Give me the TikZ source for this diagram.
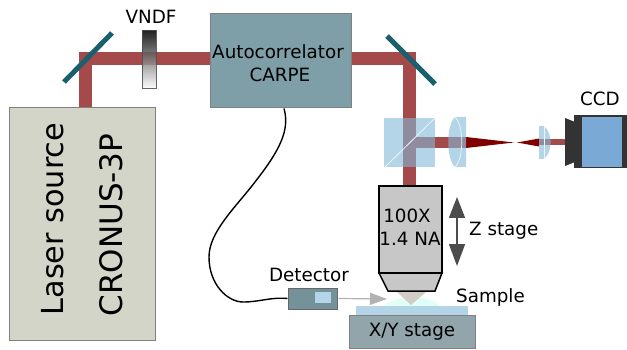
\documentclass[tikz,border=0pt]{standalone}
\usepackage{fontspec}
\setmainfont{DejaVu Sans}
\usetikzlibrary{arrows.meta}
\definecolor{laserfill}{HTML}{D3D5C9}
\definecolor{carpefill}{HTML}{7F9FA8}
\definecolor{beamred}{HTML}{A54A4A}
\definecolor{mirrorteal}{HTML}{1A5F6E}
\definecolor{opticblue}{HTML}{82B9D9}
\definecolor{stagefill}{HTML}{91A5AB}
\definecolor{chipblue}{HTML}{7AA9D6}
\begin{document}
\begin{tikzpicture}[
    x=1pt, y=-1pt,
    box/.style={
        draw=black!50,
        line width=1pt,
        inner sep=0pt,
        align=center,
        font=\fontsize{18.3}{22}\selectfont
    },
    label/.style={inner sep=0pt, align=center, font=\fontsize{18.3}{22}\selectfont},
    biglabel/.style={inner sep=0pt, rotate=90, font=\fontsize{31}{36}\selectfont},
    beam/.style={line width=13pt, beamred},
    mirror/.style={line width=5pt, mirrorteal},
    optic/.style={fill=opticblue, fill opacity=0.6},
    cable/.style={line width=1.4pt, black}
]
\useasboundingbox (0,0) rectangle (627,350);
%==========================
% Source and autocorrelator
%==========================
\node[box, fill=laserfill, minimum width=146pt, minimum height=232pt] (laser) at (82,224) {};
\node[biglabel, font=\fontsize{30.3}{36}\selectfont] (lasertxt) at (53,219) {Laser source};
\node[biglabel] (cronus) at (111,225) {CRONUS-3P};
\node[box, fill=carpefill, minimum width=141pt, minimum height=94pt] (carpe) at (280.5,61) {};
\node[label] (carpetxt) at (278,52) {Autocorrelator};
\node[label] (carpename) at (280,75) {CARPE};

\node[box, draw=black, line width=1.5pt, fill=black!22, minimum width=63pt, minimum height=87pt] (objective) at (410.5,229.5) {};
\coordinate (turn1) at (85,58.5);
\coordinate (turn2) at (409,58.5);

\draw[beam] (laser.north -| turn1) -- (turn1) -- (carpe.west |- turn1);
\draw[beam] (carpe.east |- turn2) -- (turn2) -- (objective.north -| turn2);
\draw[mirror] (64,82) -- (112,33);
\draw[mirror] (387,36) -- (435,84);

\node[box, draw=black!70, top color=black, bottom color=white, opacity=0.85, minimum width=14pt, minimum height=58pt] (vndf) at (149,60) {};
\node[label] (vndftxt) at (151,17) {VNDF};

%==========================
% Imaging arm
%==========================
\draw[line width=11pt, beamred] (409,142.5) -- (466,142.5);
\fill[black!50!red] (466,137) -- (514,142.5) -- (466,148) -- cycle;
\fill[black!50!red] (517,142.5) -- (539,138.5) -- (539,146.5) -- cycle;
\draw[line width=6pt, beamred] (539,142.5) -- (566,142.5);

\fill[optic] (384,118) rectangle (435,167);
\draw[white!85!opticblue, line width=0.8pt] (385,167) -- (435,118);
\fill[optic] (466,117) -- (455,117) .. controls (446,125) and (446,159) .. (455,167) -- (466,167) -- cycle;
\draw[white!85!opticblue, line width=0.7pt] (455,117) .. controls (464,125) and (464,159) .. (455,167);
\fill[optic] (539,126) -- (544,126) .. controls (553,134) and (553,151) .. (544,159) -- (539,159) -- cycle;
\draw[white!85!opticblue, line width=0.7pt] (544,126) -- (544,159);

\fill[black!80] (565,118) -- (575,122) -- (575,162) -- (565,166) -- cycle;
\node[box, draw=none, fill=black!80, minimum width=53pt, minimum height=53pt] (camera) at (600.5,141.5) {};
\node[box, draw=none, fill=chipblue, minimum width=40pt, minimum height=50pt] (ccdchip) at (602,142) {};
\node[label] (ccdtxt) at (600,99) {CCD};

%==========================
% Objective and sample
%==========================
\node[label] (mag) at (407,216) {100X};
\node[label] (na) at (410,239) {1.4 NA};
\draw[draw=black, line width=1.5pt, fill=black!22] (379,273) -- (442,273) -- (435,291) -- (388,291) -- cycle;

\coordinate (ztop) at (457,197);
\coordinate (zbot) at (457,266);
\draw[{Triangle[length=21pt,width=16pt]}-{Triangle[length=22pt,width=16pt]}, line width=1.6pt, black!70] (ztop) -- (zbot);
\node[label, anchor=west] (ztxt) at (469,231) {Z stage};

\fill[green!30!cyan!12] (385,306) .. controls (395,294) and (430,294) .. (440,306) -- cycle;
\fill[brown!40!black!25] (397,292) -- (426,292) -- (411,305) -- cycle;
\node[box, draw=none, fill=opticblue!60, minimum width=112pt, minimum height=9pt] (slide) at (412,310.5) {};
\node[box, fill=stagefill, minimum width=126pt, minimum height=33pt] (xystage) at (412,331.5) {X/Y stage};
\node[label, anchor=west] (sampletxt) at (456,297) {Sample};

%==========================
% Detector
%==========================
\node[box, draw=black!60, fill=carpefill!92!black, minimum width=49pt, minimum height=21pt] (detector) at (312.5,298.5) {};
\node[box, draw=none, fill=opticblue!60, minimum width=16pt, minimum height=11pt] (detwindow) at (323,297.5) {};
\node[label] (dettxt) at (309,275) {Detector};

\coordinate (focus) at (387,299);
\draw[-{Triangle[length=17pt,width=12pt]}, line width=1.2pt, black!30] (detector.east) ++(1,0) -- (focus);

\draw[cable] ([xshift=3.5pt]carpe.south) .. controls (290,130) and (280,150) .. (255,182)
    .. controls (235,208) and (209,232) .. (209,257)
    .. controls (209,285) and (228,302) .. (243,302)
    .. controls (260,302) and (270,297) .. (detector.west);
\end{tikzpicture}
\end{document}
